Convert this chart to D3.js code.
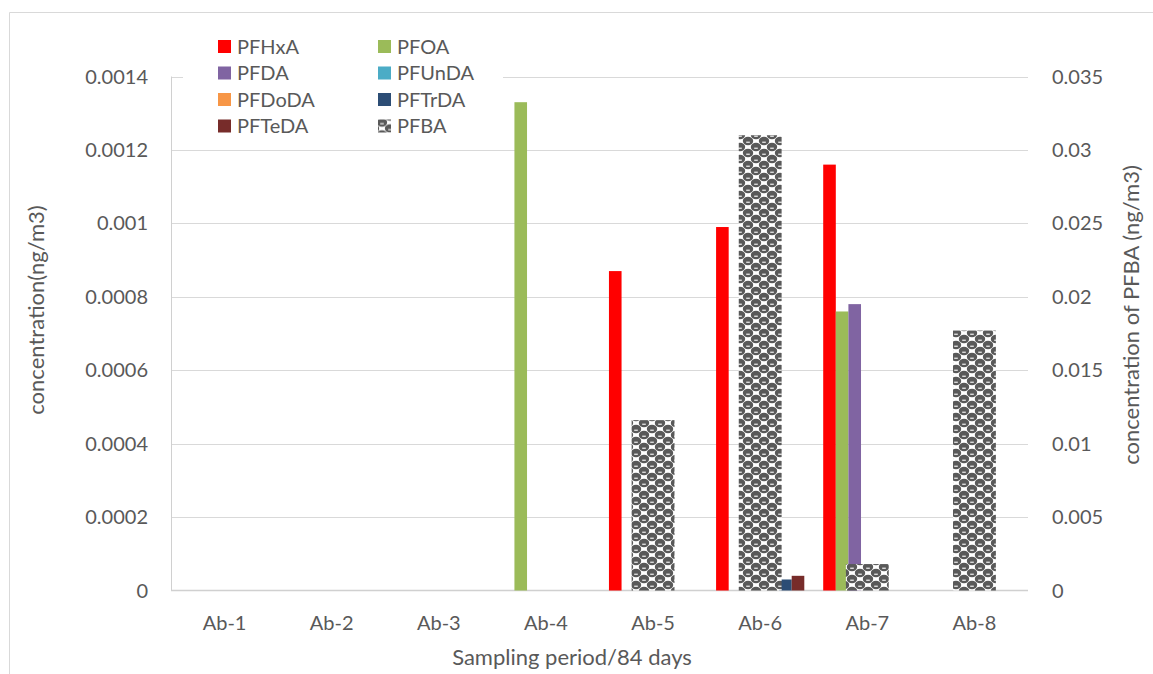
<!DOCTYPE html>
<html>
<head>
<meta charset="utf-8">
<script src="https://cdnjs.cloudflare.com/ajax/libs/d3/7.8.5/d3.min.js"></script>
<style>
  html, body { margin: 0; padding: 0; background: #ffffff; }
  svg { display: block; }
  text { font-family: Lato, "Open Sans", sans-serif; fill: #595959; }
</style>
</head>
<body>
<svg id="chart" width="1153" height="674"></svg>
<script>
// Sampling periods
const categories = ["Ab-1", "Ab-2", "Ab-3", "Ab-4", "Ab-5", "Ab-6", "Ab-7", "Ab-8"];

// Concentrations on the primary axis (ng/m3)
const PFHxA  = [0, 0, 0, 0, 0.00087, 0.00099, 0.00116, 0];
const PFOA   = [0, 0, 0, 0.00133, 0, 0, 0.00076, 0];
const PFDA   = [0, 0, 0, 0, 0, 0, 0.00078, 0];
const PFUnDA = [0, 0, 0, 0, 0, 0, 0, 0];
const PFDoDA = [0, 0, 0, 0, 0, 0, 0, 0];
const PFTrDA = [0, 0, 0, 0, 0, 0.00003, 0, 0];
const PFTeDA = [0, 0, 0, 0, 0, 0.00004, 0, 0];

// PFBA on the secondary axis (ng/m3)
const PFBA = [0, 0, 0, 0, 0.0116, 0.031, 0.0018, 0.0177];

// Axis ticks
const leftTicks  = [0, 0.0002, 0.0004, 0.0006, 0.0008, 0.001, 0.0012, 0.0014];
const leftTickLabels  = ["0", "0.0002", "0.0004", "0.0006", "0.0008", "0.001", "0.0012", "0.0014"];
const rightTicks = [0, 0.005, 0.01, 0.015, 0.02, 0.025, 0.03, 0.035];
const rightTickLabels = ["0", "0.005", "0.01", "0.015", "0.02", "0.025", "0.03", "0.035"];

const primaryNames  = ["PFHxA", "PFOA", "PFDA", "PFUnDA", "PFDoDA", "PFTrDA", "PFTeDA"];
const primaryValues = [PFHxA, PFOA, PFDA, PFUnDA, PFDoDA, PFTrDA, PFTeDA];
const primaryColors = ["#ff0000", "#9bbb59", "#8064a2", "#4bacc6", "#f79646", "#2c4d75", "#772c2a"];

const svg = d3.select("#chart");
const plot = { left: 171, right: 1028, top: 76.5, bottom: 590.5 };

// Outer chart frame
svg.append("path")
  .attr("d", "M9.5,674 V12.5 H1153")
  .attr("fill", "none").attr("stroke", "#d9d9d9").attr("stroke-width", 1);

// Scales
const x0 = d3.scaleBand().domain(categories).range([plot.left, plot.right]).padding(0);
const xPrim = d3.scaleBand().domain(primaryNames).range([0, x0.bandwidth()])
  .paddingInner(0).paddingOuter(0.75);
const xSec = d3.scaleBand().domain(["PFBA"]).range([0, x0.bandwidth()])
  .paddingInner(0).paddingOuter(0.75);
const yL = d3.scaleLinear().domain([0, 0.0014]).range([plot.bottom, plot.top]);
const yR = d3.scaleLinear().domain([0, 0.035]).range([plot.bottom, plot.top]);

// Sphere-like fill pattern for PFBA: staggered dark blobs with a light glint
const defs = svg.append("defs");
const pat = defs.append("pattern")
  .attr("id", "sphere").attr("patternUnits", "userSpaceOnUse")
  .attr("width", 16).attr("height", 12);
pat.append("rect").attr("width", 16).attr("height", 12).attr("fill", "#ffffff");
const blobCentres = [];
for (let i = -1; i <= 1; i++) {
  for (let j = -1; j <= 1; j++) {
    blobCentres.push([4 + 16 * i, 3 + 12 * j]);
    blobCentres.push([12 + 16 * i, 9 + 12 * j]);
  }
}
blobCentres.forEach(([cx, cy]) => {
  pat.append("ellipse").attr("cx", cx).attr("cy", cy).attr("rx", 5.2).attr("ry", 4.2)
    .attr("fill", "#595959");
});
blobCentres.forEach(([cx, cy]) => {
  pat.append("rect").attr("x", cx - 1.8).attr("y", cy + 0.6).attr("width", 3.6).attr("height", 1.3)
    .attr("fill", "#e6e6e6");
});

// Gridlines
svg.append("g").selectAll("line").data(leftTicks.slice(1)).join("line")
  .attr("x1", plot.left).attr("x2", plot.right)
  .attr("y1", d => Math.round(yL(d)) + 0.5).attr("y2", d => Math.round(yL(d)) + 0.5)
  .attr("stroke", "#d9d9d9").attr("stroke-width", 1);

// Axis lines
svg.append("line").attr("x1", plot.left).attr("x2", plot.right)
  .attr("y1", plot.bottom).attr("y2", plot.bottom)
  .attr("stroke", "#d0d0d0").attr("stroke-width", 1.5);
svg.append("line").attr("x1", plot.left + 0.5).attr("x2", plot.left + 0.5)
  .attr("y1", plot.top).attr("y2", plot.bottom)
  .attr("stroke", "#d0d0d0").attr("stroke-width", 1);

// Primary bars
const groups = svg.append("g").selectAll("g").data(categories).join("g")
  .attr("transform", d => `translate(${x0(d)},0)`);
groups.selectAll("rect")
  .data((c, i) => primaryNames.map((n, s) => ({ name: n, s, v: primaryValues[s][i] })))
  .join("rect")
  .attr("x", d => xPrim(d.name))
  .attr("width", xPrim.bandwidth())
  .attr("y", d => yL(d.v))
  .attr("height", d => plot.bottom - yL(d.v))
  .attr("fill", d => primaryColors[d.s]);

// Secondary bars (PFBA)
svg.append("g").selectAll("rect")
  .data(categories.map((c, i) => ({ c, v: PFBA[i] })))
  .join("rect")
  .attr("x", d => x0(d.c) + xSec("PFBA"))
  .attr("width", xSec.bandwidth())
  .attr("y", d => yR(d.v))
  .attr("height", d => plot.bottom - yR(d.v))
  .attr("fill", "url(#sphere)");

// Left tick labels
svg.append("g").selectAll("text").data(leftTicks).join("text")
  .attr("x", 148).attr("y", d => yL(d)).attr("dy", "0.35em")
  .attr("text-anchor", "end").attr("font-size", 20)
  .text((d, i) => leftTickLabels[i]);

// Right tick labels
svg.append("g").selectAll("text").data(rightTicks).join("text")
  .attr("x", 1052).attr("y", d => yR(d)).attr("dy", "0.35em")
  .attr("text-anchor", "start").attr("font-size", 20)
  .text((d, i) => rightTickLabels[i]);

// Category labels
svg.append("g").selectAll("text").data(categories).join("text")
  .attr("x", d => x0(d) + x0.bandwidth() / 2).attr("y", 630)
  .attr("text-anchor", "middle").attr("font-size", 20)
  .text(d => d);

// Axis titles
svg.append("text").attr("x", 572).attr("y", 665)
  .attr("text-anchor", "middle").attr("font-size", 22)
  .text("Sampling period/84 days");
svg.append("text").attr("transform", "translate(44,310) rotate(-90)")
  .attr("text-anchor", "middle").attr("font-size", 22)
  .text("concentration(ng/m3)");
svg.append("text").attr("transform", "translate(1139,315) rotate(-90)")
  .attr("text-anchor", "middle").attr("font-size", 22)
  .text("concentration of PFBA (ng/m3)");

// Legend
const legendNames  = primaryNames.concat(["PFBA"]);
const legendFills  = primaryColors.concat(["url(#sphere)"]);
const legend = svg.append("g");
legend.append("rect").attr("x", 183).attr("y", 28).attr("width", 320).attr("height", 112)
  .attr("fill", "#ffffff");
const items = legend.selectAll("g").data(legendNames).join("g")
  .attr("transform", (d, i) => `translate(${i % 2 === 0 ? 218 : 378},${40 + Math.floor(i / 2) * 26.5})`);
items.append("rect").attr("width", 13).attr("height", 13)
  .attr("fill", (d, i) => legendFills[i]);
items.append("text").attr("x", 19).attr("y", 6.5).attr("dy", "0.36em")
  .attr("font-size", 20).text(d => d);
</script>
</body>
</html>
